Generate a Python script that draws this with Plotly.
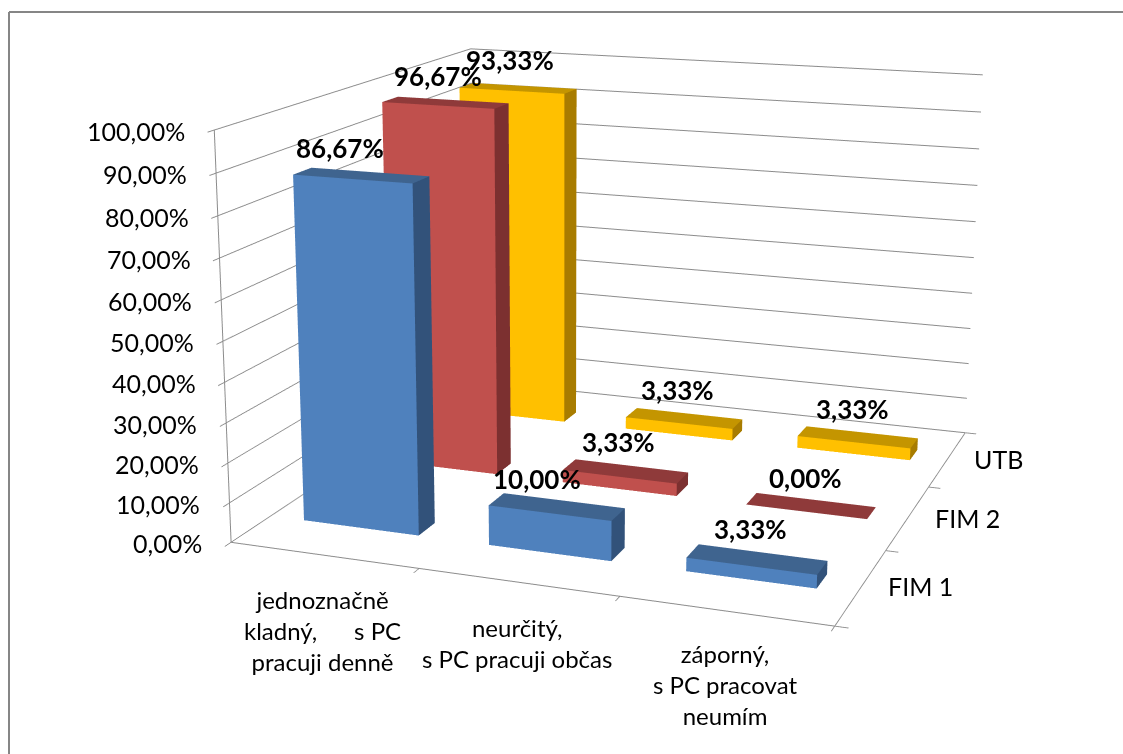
import numpy as np
import plotly.graph_objects as go

# Chart data
categories = [
    "jednoznačně<br>kladný,\u00a0\u00a0\u00a0\u00a0\u00a0\u00a0s PC<br>pracuji denně",
    "neurčitý,<br>s PC pracuji občas",
    "záporný,<br>s PC pracovat<br>neumím",
]
series_names = ["FIM 1", "FIM 2", "UTB"]
fim1 = [86.67, 10.00, 3.33]
fim2 = [96.67, 3.33, 0.00]
utb = [93.33, 3.33, 3.33]
value_ticks = [0, 10, 20, 30, 40, 50, 60, 70, 80, 90, 100]

# Styling
front_colors = ["#4F81BD", "#C0504D", "#FFC000"]
top_colors = ["#3F648F", "#8F3A3A", "#C49500"]
side_colors = ["#32527A", "#7C3030", "#A87C00"]
LINE = "#8C8C8C"
FONT = "Lato"
FONT_SIZE = 25
CATEGORY_SIZE = 24
BOLD_SIZE = 26

# Page and camera set-up: the scene is taller than the page so that the
# perspective stays shallow, and it is slid up so the box sits in view.
PAGE_W, SCENE_H, SCENE_TOP = 1123, 1837, -582
EYE = (1.1970, -3.4815, 0.9099)
CENTER = (-0.0599, -0.1567, -0.0377)
UP = (0.0013, 0.0034, 1.0)
ASPECT = (1.0, 1.0112, 0.6742)
BAR_GAP = 0.1861
DEPTH_GAP = 0.4045


def to_screen(x, y, z):
    """Pixel position of a data point under the camera above."""
    w = np.array([ASPECT[0] * (x / 3 - .5), ASPECT[1] * (y / 3 - .5), ASPECT[2] * (z / 100 - .5)])
    eye, cen = np.array(EYE), np.array(CENTER)
    f = (cen - eye) / np.linalg.norm(cen - eye)
    r = np.cross(f, UP)
    r = r / np.linalg.norm(r)
    u = np.cross(r, f)
    d = w - eye
    fp = SCENE_H / 2 / np.tan(np.pi / 8)
    return PAGE_W / 2 + fp * (d @ r) / (d @ f), SCENE_TOP + SCENE_H / 2 - fp * (d @ u) / (d @ f)


def pct(v):
    return f"{v:.2f}".replace(".", ",") + "%"


fig = go.Figure()

# One mesh per series, each bar built from its front, right and top faces
for s, (name, values) in enumerate(zip(series_names, [fim1, fim2, utb])):
    xs, ys, zs, ii, jj, kk, colors = [], [], [], [], [], [], []
    for c, v in enumerate(values):
        x0, x1 = c + BAR_GAP, c + 1 - BAR_GAP
        y0, y1 = s + DEPTH_GAP, s + 1 - DEPTH_GAP
        faces = [
            ([(x0, y0, 0), (x1, y0, 0), (x1, y0, v), (x0, y0, v)], front_colors[s]),
            ([(x1, y0, 0), (x1, y1, 0), (x1, y1, v), (x1, y0, v)], side_colors[s]),
            ([(x0, y0, v), (x1, y0, v), (x1, y1, v), (x0, y1, v)], top_colors[s]),
        ]
        for corners, col in faces:
            n = len(xs)
            for px, py, pz in corners:
                xs.append(px)
                ys.append(py)
                zs.append(pz)
            ii += [n, n]
            jj += [n + 1, n + 2]
            kk += [n + 2, n + 3]
            colors += [col, col]
    fig.add_trace(go.Mesh3d(
        x=xs, y=ys, z=zs, i=ii, j=jj, k=kk, facecolor=colors, name=name,
        flatshading=True, hoverinfo="skip", showscale=False,
        lighting=dict(ambient=1, diffuse=0, specular=0, roughness=1, fresnel=0),
    ))

notes = []


def label(x, y, z, text, tx, ty, size=FONT_SIZE, bold=False, anchor="center"):
    sx, sy = to_screen(x, y, z)
    notes.append(dict(
        x=x, y=y, z=z, text=text, showarrow=False, xanchor=anchor, yanchor="middle",
        xshift=tx - sx, yshift=sy - ty, align="center",
        font=dict(family=FONT, size=size, color="#000000", weight="bold" if bold else "normal"),
    ))


# Value axis labels sit a fixed distance left of the axis
for t in value_ticks:
    sx, sy = to_screen(0, 0, t)
    label(0, 0, t, pct(t), sx - 27, sy + 1, anchor="right")

# Category labels
cat_xy = [(323, 631), (518, 643), (726, 684)]
for c, (text, (tx, ty)) in enumerate(zip(categories, cat_xy)):
    label(c + .5, 0, 0, text, tx, ty, size=CATEGORY_SIZE)

# Series labels along the depth axis
ser_xy = [(921, 585), (968, 517), (999, 458)]
for s, (name, (tx, ty)) in enumerate(zip(series_names, ser_xy)):
    label(3, s + .5, 0, name, tx, ty)

# Value labels above the bars
val_xy = [
    [(340, 149), (537, 479), (751, 529)],
    [(437.5, 76), (619, 442), (806, 477)],
    [(509, 60), (678, 390), (853, 408)],
]
for s, values in enumerate([fim1, fim2, utb]):
    for c, v in enumerate(values):
        label(c + .5, s + .5, v, pct(v), *val_xy[s][c], size=BOLD_SIZE, bold=True)

plain_axis = dict(
    showbackground=False, showgrid=False, zeroline=False, showspikes=False,
    showline=True, linecolor=LINE, linewidth=2, showticklabels=False,
    ticks="outside", ticklen=10, tickwidth=2, tickcolor=LINE, title=dict(text=""),
)

fig.update_layout(
    width=PAGE_W, height=SCENE_H, margin=dict(l=0, r=0, t=0, b=0),
    paper_bgcolor="white", showlegend=False,
    scene=dict(
        domain=dict(x=[0, 1], y=[0, 1]),
        xaxis=dict(plain_axis, range=[0, 3], tickvals=[0, 1, 2, 3]),
        yaxis=dict(plain_axis, range=[0, 3], tickvals=[0, 1, 2, 3]),
        zaxis=dict(plain_axis, range=[0, 100], tickvals=value_ticks, showgrid=True, gridcolor=LINE, gridwidth=2),
        aspectmode="manual",
        aspectratio=dict(x=ASPECT[0], y=ASPECT[1], z=ASPECT[2]),
        camera=dict(
            eye=dict(x=EYE[0], y=EYE[1], z=EYE[2]),
            center=dict(x=CENTER[0], y=CENTER[1], z=CENTER[2]),
            up=dict(x=UP[0], y=UP[1], z=UP[2]),
            projection=dict(type="perspective"),
        ),
        annotations=notes,
    ),
    shapes=[
        dict(type="line", xref="paper", yref="paper", x0=9 / PAGE_W, x1=1,
             y0=1 - (12 - SCENE_TOP) / SCENE_H, y1=1 - (12 - SCENE_TOP) / SCENE_H,
             line=dict(color="#868686", width=2)),
        dict(type="line", xref="paper", yref="paper", x0=9 / PAGE_W, x1=9 / PAGE_W,
             y0=1 - (12 - SCENE_TOP) / SCENE_H, y1=1 - (754 - SCENE_TOP) / SCENE_H,
             line=dict(color="#868686", width=2)),
    ],
)

fig.write_html(
    "out.html",
    config=dict(displayModeBar=False),
    post_script=(
        "document.documentElement.style.overflow='hidden';"
        "document.body.style.overflow='hidden';"
        f"document.getElementById('{{plot_id}}').style.marginTop='{SCENE_TOP}px';"
    ),
)
